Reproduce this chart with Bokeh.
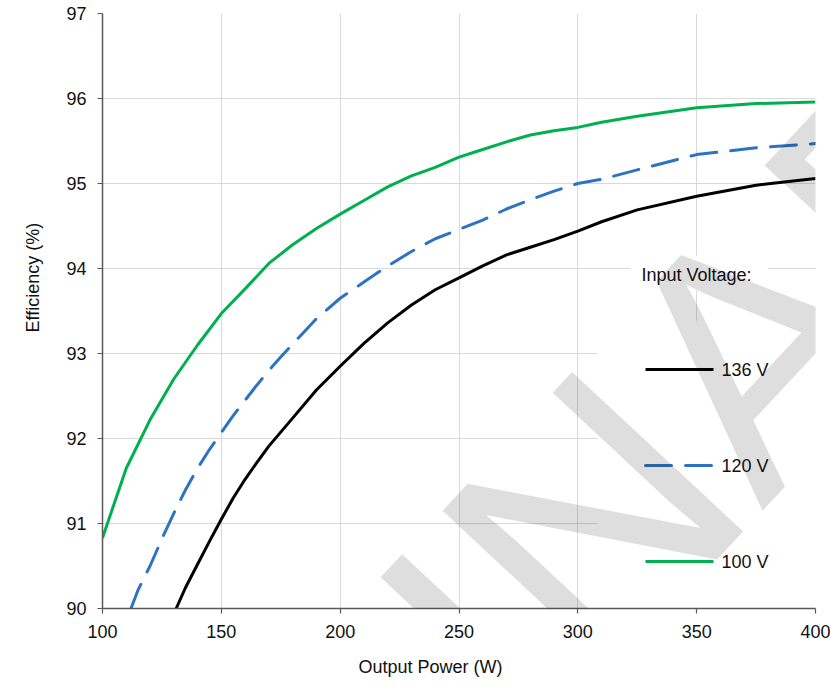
import math
from bokeh.plotting import figure
from bokeh.models import Range1d, FixedTicker, BoxAnnotation, Label, Title
from bokeh.embed import file_html
from bokeh.resources import INLINE

# ---------------- data ----------------
power_136 = [131, 135, 140, 145, 150, 155, 160, 165, 170, 180, 190, 200, 210, 220, 230,
             240, 250, 260, 270, 280, 290, 300, 310, 325, 350, 375, 400]
eff_136 = [90.00, 90.25, 90.52, 90.79, 91.05, 91.30, 91.52, 91.72, 91.91, 92.24, 92.57,
           92.85, 93.12, 93.36, 93.57, 93.75, 93.89, 94.03, 94.16, 94.25, 94.34, 94.44,
           94.55, 94.69, 94.85, 94.98, 95.06]

power_120 = [112, 115, 120, 125, 130, 135, 140, 145, 150, 155, 160, 165, 170, 175, 180,
             185, 190, 200, 210, 220, 230, 240, 250, 260, 270, 280, 290, 300, 310, 325,
             350, 375, 400]
eff_120 = [90.00, 90.22, 90.50, 90.82, 91.12, 91.40, 91.65, 91.87, 92.07, 92.27, 92.45,
           92.63, 92.80, 92.96, 93.11, 93.26, 93.41, 93.65, 93.84, 94.03, 94.20, 94.35,
           94.46, 94.57, 94.70, 94.81, 94.91, 95.00, 95.05, 95.16, 95.34, 95.42, 95.47]

power_100 = [100, 110, 120, 130, 140, 150, 160, 170, 180, 190, 200, 210, 220, 230, 240,
             250, 260, 270, 280, 290, 300, 310, 325, 350, 375, 400]
eff_100 = [90.83, 91.65, 92.22, 92.70, 93.10, 93.47, 93.76, 94.06, 94.28, 94.47, 94.64,
           94.80, 94.96, 95.09, 95.19, 95.31, 95.40, 95.49, 95.57, 95.62, 95.66, 95.72,
           95.79, 95.89, 95.94, 95.96]

series_names = ["136 V", "120 V", "100 V"]
x_ticks = [100, 150, 200, 250, 300, 350, 400]
y_ticks = [90, 91, 92, 93, 94, 95, 96, 97]
x_title = "Output Power (W)"
y_title = "Efficiency (%)"
legend_title = "Input Voltage:"
watermark = "PRELIMINARY"

# ---------------- layout helpers (picture pixel -> data) ----------------
W, H = 830, 691
X0, X1, Y0, Y1 = 100, 400, 90, 97
FL, FR, FT, FB = 102, 815, 13, 608   # frame edges in picture pixels


def dx(px):
    return X0 + (px - FL) * (X1 - X0) / (FR - FL)


def dy(py):
    return Y0 + (FB - py) * (Y1 - Y0) / (FB - FT)


FONT = "Liberation Sans"
TXT = "#111111"
GRID = "#d9d9d9"
AXIS = "#595959"
BLACK = "#000000"
BLUE = "#2E73C1"
GREEN = "#00B050"

p = figure(width=W, height=H, output_backend="svg", toolbar_location=None,
           x_range=Range1d(X0, X1), y_range=Range1d(Y0, Y1),
           min_border_left=FL, min_border_right=W - FR,
           min_border_top=FT, min_border_bottom=H - FB)
p.outline_line_color = None
p.background_fill_color = "white"
p.border_fill_color = "white"

for ax, ticks in ((p.xaxis, x_ticks), (p.yaxis, y_ticks)):
    ax.ticker = FixedTicker(ticks=ticks)
    ax.axis_line_color = AXIS
    ax.axis_line_width = 1.5
    ax.major_tick_line_color = AXIS
    ax.major_tick_line_width = 1.2
    ax.major_tick_out = 5
    ax.major_tick_in = 0
    ax.minor_tick_line_color = None
    ax.major_label_text_font = FONT
    ax.major_label_text_font_size = "18px"
    ax.major_label_text_color = TXT
p.xaxis.major_label_standoff = 11
p.yaxis.major_label_standoff = 11

p.xgrid.ticker = FixedTicker(ticks=x_ticks)
p.ygrid.ticker = FixedTicker(ticks=y_ticks)
p.grid.grid_line_color = GRID
p.grid.grid_line_width = 1

# axis titles (side titles, left-aligned with an offset to sit where the reference has them)
p.add_layout(Title(text=x_title, align="left", offset=256, standoff=29, text_font=FONT,
                   text_font_size="18px", text_font_style="normal", text_color=TXT), "below")
p.add_layout(Title(text=y_title, align="left", offset=276, standoff=38, vertical_align="top",
                   text_font=FONT, text_font_size="18px", text_font_style="normal",
                   text_color=TXT), "left")

# white legend areas hiding the grid
p.add_layout(BoxAnnotation(left=dx(597), top=dy(320), fill_color="white", fill_alpha=1,
                           line_alpha=0, level="glyph"))
p.add_layout(BoxAnnotation(left=dx(630), right=dx(768), bottom=dy(290), top=dy(255),
                           fill_color="white", fill_alpha=1, line_alpha=0, level="glyph"))

# data lines
p.line(power_136, eff_136, line_color=BLACK, line_width=3, line_join="round")
p.line(power_120, eff_120, line_color=BLUE, line_width=3, line_dash="26 14",
       line_cap="round", line_join="round")
p.line(power_100, eff_100, line_color=GREEN, line_width=3, line_join="round")

# legend
styles = [dict(line_color=BLACK), dict(line_color=BLUE, line_dash="26 14", line_cap="round"),
          dict(line_color=GREEN)]
leg_y = [369, 465, 561]
for name, st, py in zip(series_names, styles, leg_y):
    r = p.line([dx(645), dx(713)], [dy(py), dy(py)], line_width=3, **st)
    r.level = "annotation"
    p.add_layout(Label(x=dx(721), y=dy(py), text=name, text_font=FONT,
                       text_font_size="18px", text_baseline="middle", text_align="left",
                       text_color=TXT))
p.add_layout(Label(x=dx(641), y=dy(274), text=legend_title, text_font=FONT,
                   text_font_size="18px", text_baseline="middle", text_align="left",
                   text_color=TXT))

# watermark
p.add_layout(Label(x=dx(364), y=dy(764), text=watermark, text_font=FONT,
                   text_font_size="340px", text_baseline="middle", text_align="center",
                   angle=math.radians(47), text_color="black", text_alpha=0.13,
                   level="overlay"))

open("out.html", "w").write(file_html(p, INLINE))
